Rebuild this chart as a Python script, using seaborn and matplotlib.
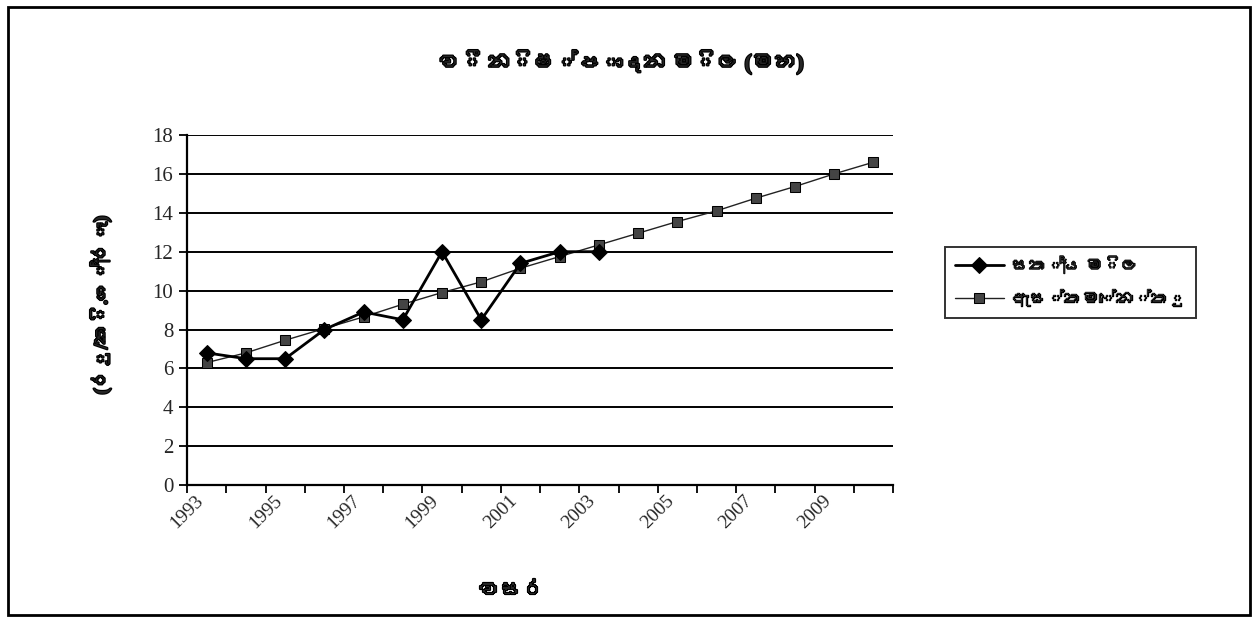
import numpy as np
import pandas as pd
import seaborn as sns
import matplotlib.pyplot as plt
import matplotlib.patheffects as pe
from matplotlib import font_manager
from matplotlib.ft2font import FT2Font
from matplotlib.patches import Rectangle

# data
years = list(range(1993, 2011))
actual_price = [6.8, 6.5, 6.5, 8.0, 8.9, 8.5, 12.0, 8.5, 11.4, 12.0, 12.0]
estimate = [6.3, 6.8, 7.45, 8.05, 8.65, 9.3, 9.9, 10.45, 11.15, 11.75,
            12.35, 12.95, 13.55, 14.1, 14.75, 15.35, 16.0, 16.6]
y_ticks = list(range(0, 19, 2))
x_tick_labels = years[::2]

title = "වී නිෂ්පාදන මිල (මහ)"
x_label = "වසර"
y_label = "(රු/කි.ග්‍රෑ)"
actual_name = "සත්‍ය මිල"
estimate_name = "ඇස්තමේන්තු"


def sinhala_font():
    # look for any installed font that has Sinhala glyphs
    for path in font_manager.findSystemFonts():
        try:
            if 0x0DC0 in FT2Font(path).get_charmap():
                return font_manager.FontProperties(fname=path).get_name()
        except Exception:
            pass
    return None


sns.set_style("white")
families = ["Liberation Serif"]
sin = sinhala_font()
if sin:
    families.append(sin)
families.append("DejaVu Sans")
plt.rcParams["font.family"] = families

# fake bold for the Sinhala text (font has no bold face)
bold = [pe.withStroke(linewidth=1.6, foreground="black")]

df_actual = pd.DataFrame({"year": years[:len(actual_price)], "price": actual_price})
df_est = pd.DataFrame({"year": years, "price": estimate})

fig = plt.figure(figsize=(12.56, 6.22), dpi=100)
ax = fig.add_axes([0.149, 0.22, 0.562, 0.563])

sns.lineplot(data=df_actual, x="year", y="price", ax=ax, color="black", lw=2,
             marker="D", markersize=8, markeredgecolor="black",
             label=actual_name, zorder=4)
sns.lineplot(data=df_est, x="year", y="price", ax=ax, color="#222222", lw=1.0,
             marker="s", markersize=7, markerfacecolor="#444444",
             markeredgecolor="black", label=estimate_name, zorder=3)

ax.set_ylim(0, 18)
ax.set_yticks(y_ticks)
ax.set_xlim(1992.5, 2010.5)
ax.set_xticks(np.arange(1992.5, 2011, 1))
ax.set_xticklabels([])
ax.set_xticks(x_tick_labels, minor=True)
ax.set_xticklabels([str(y) for y in x_tick_labels], minor=True, rotation=45,
                   ha="right", fontsize=14)
ax.tick_params(axis="x", which="major", direction="out", length=6, width=1.3,
               color="black", bottom=True)
ax.tick_params(axis="x", which="minor", length=0, pad=5)
ax.tick_params(axis="y", direction="out", length=6, width=1.3, color="black",
               left=True, labelsize=15, pad=4)
ax.yaxis.grid(True, color="black", lw=1.4)
ax.xaxis.grid(False)
ax.set_axisbelow(True)
for s in ["top", "right"]:
    ax.spines[s].set_visible(False)
for s in ["left", "bottom"]:
    ax.spines[s].set_color("black")
    ax.spines[s].set_linewidth(1.6)
ax.set_xlabel("")
ax.set_ylabel("")

fig.text(0.495, 0.90, title, ha="center", va="center", fontsize=16,
         fontweight="bold", path_effects=bold)
fig.text(0.408, 0.048, x_label, ha="center", va="center", fontsize=16,
         fontweight="bold", path_effects=bold)
fig.text(0.08, 0.51, y_label, ha="center", va="center", rotation=90,
         fontsize=14, fontweight="bold", path_effects=bold)

ax.get_legend().remove()
h, l = ax.get_legend_handles_labels()
leg = fig.legend(h, l, loc="upper left", bbox_to_anchor=(0.752, 0.603),
                 borderaxespad=0, frameon=True, fancybox=False,
                 edgecolor="black", fontsize=12.5, handlelength=2.8,
                 handletextpad=0.5, borderpad=0.6, labelspacing=0.8)
leg.get_frame().set_linewidth(1.4)
for t in leg.get_texts():
    t.set_path_effects([pe.withStroke(linewidth=1.0, foreground="black")])

fig.patches.append(Rectangle((0.006, 0.012), 0.989, 0.977, transform=fig.transFigure,
                             fill=False, ec="black", lw=2))

fig.savefig("out.png", dpi=100)
